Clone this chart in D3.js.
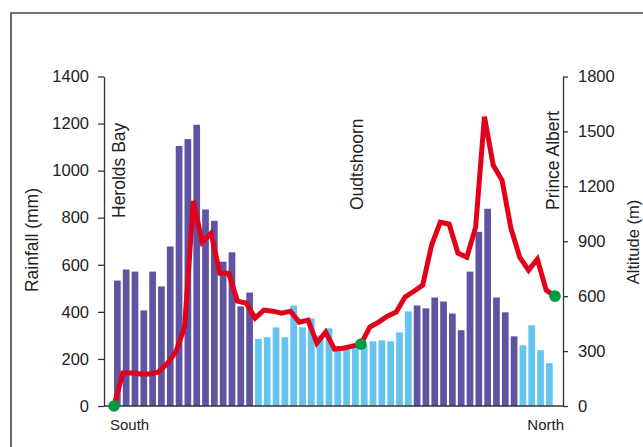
<!DOCTYPE html>
<html><head><meta charset="utf-8">
<script src="https://cdn.jsdelivr.net/npm/d3@7"></script>
<style>
html,body{margin:0;padding:0;background:#fff;}
svg{display:block;font-family:"Liberation Sans",Arial,sans-serif;}
</style></head>
<body><svg id="c" width="643" height="447"></svg>
<script>
// Rainfall (mm) per station, south to north
const rainfall = [533,580,571,406,571,508,678,1105,1134,1195,835,787,613,653,423,482,
  285,292,334,292,427,334,372,300,330,250,245,250,258,275,279,275,313,402,
  427,415,461,444,393,322,571,740,838,461,398,296,
  258,343,237,182];
// Bar colour groups (0 = dark purple, 1 = light blue)
const barGroup = [0,0,0,0,0,0,0,0,0,0,0,0,0,0,0,0,
  1,1,1,1,1,1,1,1,1,1,1,1,1,1,1,1,1,1,
  0,0,0,0,0,0,0,0,0,0,0,0,
  1,1,1,1];
// Altitude (m) profile
const altitude = [0,180,180,175,175,185,230,295,430,1120,895,944,725,725,573,562,
  480,524,518,507,518,458,469,344,404,311,316,327,338,431,458,491,513,595,
  627,660,878,1004,993,835,813,976,1580,1315,1233,971,813,742,802,633,600];
// Named places on the profile (index into altitude)
const places = [{name:"Herolds Bay", i:0},{name:"Oudtshoorn", i:28},{name:"Prince Albert", i:50}];
const dirLabels = ["South","North"];
const rainTicks = [0,200,400,600,800,1000,1200,1400];
const altTicks = [0,300,600,900,1200,1500,1800];

const svg = d3.select("#c");
const colors = ["#5E54A2","#66C5F0"];
const red = "#E2001A", green = "#009A44", axisCol = "#333";

// frame
svg.append("path").attr("d","M11,460V13H660").attr("fill","none").attr("stroke","#444").attr("stroke-width",1.6);

const yL = d3.scaleLinear().domain([0,1400]).range([406,76.5]);
const yR = d3.scaleLinear().domain([0,1800]).range([406,76.5]);
const xB = d3.scaleBand().domain(d3.range(rainfall.length)).range([114,552.7]).paddingInner(0.24).paddingOuter(0);
const xL = d3.scaleLinear().domain([0, altitude.length-1]).range([114,555]);

// bars
svg.append("g").selectAll("rect").data(rainfall).join("rect")
  .attr("x",(d,i)=>xB(i)).attr("width",xB.bandwidth())
  .attr("y",d=>yL(d)).attr("height",d=>yL(0)-yL(d))
  .attr("fill",(d,i)=>colors[barGroup[i]]);

// axes
const gl = svg.append("g").attr("transform","translate(104,0)")
  .call(d3.axisLeft(yL).tickValues(rainTicks).tickSize(6).tickSizeOuter(0).tickPadding(9).tickFormat(d3.format("d")));
const gr = svg.append("g").attr("transform","translate(563,0)")
  .call(d3.axisRight(yR).tickValues(altTicks).tickSize(5).tickSizeOuter(0).tickPadding(10).tickFormat(d3.format("d")));
[gl,gr].forEach(g=>{
  g.selectAll("path,line").attr("stroke",axisCol).attr("stroke-width",1.3);
  g.selectAll("text").attr("font-size",16.5).attr("fill","#222").attr("font-family","Liberation Sans, Arial, sans-serif");
});
svg.append("line").attr("x1",104).attr("x2",563).attr("y1",yL(0)).attr("y2",yL(0))
  .attr("stroke",axisCol).attr("stroke-width",1.6);

// altitude line
svg.append("path").datum(altitude)
  .attr("d", d3.line().x((d,i)=>xL(i)).y(d=>yR(d)))
  .attr("fill","none").attr("stroke",red).attr("stroke-width",5).attr("stroke-linejoin","miter").attr("stroke-miterlimit",4);

// place dots
svg.append("g").selectAll("circle").data(places).join("circle")
  .attr("cx",d=>xL(d.i)).attr("cy",d=>yR(altitude[d.i])).attr("r",5.8).attr("fill",green);

// place names (vertical)
const offs = [11,2,4];
svg.append("g").selectAll("text").data(places).join("text")
  .attr("transform",(d,k)=>`translate(${xL(d.i)+offs[k]},${k===0?218:210}) rotate(-90)`)
  .attr("font-size",17.5).attr("fill","#222").text(d=>d.name);

// direction labels
svg.append("text").attr("x",xL(0)-4).attr("y",430).attr("font-size",15).attr("fill","#222").text(dirLabels[0]);
svg.append("text").attr("x",xL(altitude.length-1)+9).attr("y",430).attr("text-anchor","end").attr("font-size",15).attr("fill","#222").text(dirLabels[1]);

// axis titles
svg.append("text").attr("transform","translate(38,240) rotate(-90)").attr("text-anchor","middle")
  .attr("font-size",17.5).attr("fill","#222").text("Rainfall (mm)");
svg.append("text").attr("transform","translate(639,242) rotate(-90)").attr("text-anchor","middle")
  .attr("font-size",16.5).attr("fill","#222").text("Altitude (m)");
</script></body></html>
